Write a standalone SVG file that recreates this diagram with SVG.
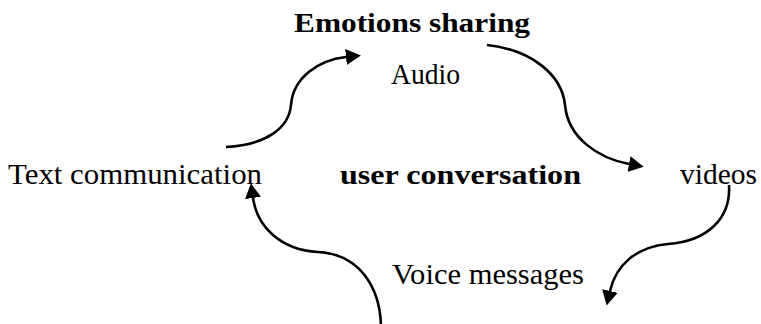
<svg xmlns="http://www.w3.org/2000/svg" width="761" height="324" viewBox="0 0 761 324">
  <style>
    .lbl { font-family: "Liberation Serif", "Times New Roman", serif; font-size: 29px; fill: #000; }
    .bold { font-weight: bold; font-size: 27px; }
    .flow { fill: none; stroke: #000; stroke-width: 2.6; stroke-linecap: butt; }
  </style>
  <defs>
    <marker id="arrow" viewBox="0 0 15 16" refX="0" refY="8" markerWidth="15" markerHeight="16" markerUnits="userSpaceOnUse" orient="auto">
      <path d="M0,0 L15,8 L0,16 z" fill="#000"/>
    </marker>
  </defs>
  <rect width="761" height="324" fill="#fff"/>

  <g id="node-emotions"><text class="lbl bold" x="294" y="32" textLength="236" lengthAdjust="spacingAndGlyphs">Emotions sharing</text></g>
  <g id="node-audio"><text class="lbl" x="391" y="84" textLength="69" lengthAdjust="spacingAndGlyphs">Audio</text></g>
  <g id="node-text"><text class="lbl" x="8" y="183.5" textLength="254" lengthAdjust="spacingAndGlyphs">Text communication</text></g>
  <g id="node-center"><text class="lbl bold" x="340" y="183.5" textLength="241" lengthAdjust="spacingAndGlyphs">user conversation</text></g>
  <g id="node-videos"><text class="lbl" x="680" y="183.5" textLength="77" lengthAdjust="spacingAndGlyphs">videos</text></g>
  <g id="node-voice"><text class="lbl" x="392" y="283.5" textLength="192" lengthAdjust="spacingAndGlyphs">Voice messages</text></g>

  <g id="connectors">
    <path class="flow" marker-end="url(#arrow)" d="M226,147 C266,145 289,128 291,105 C293,78 318,60 346,57"/>
    <path class="flow" marker-end="url(#arrow)" d="M487,45 C532,50 562,75 565,105 C568,138 598,158 629,164"/>
    <path class="flow" marker-end="url(#arrow)" d="M729,185 C731,218 708,241 668,244 C636,247 616,265 610,291"/>
    <path class="flow" marker-end="url(#arrow)" d="M381,326 C380,288 360,254 318,252 C280,250 257,226 253,198"/>
  </g>
</svg>
